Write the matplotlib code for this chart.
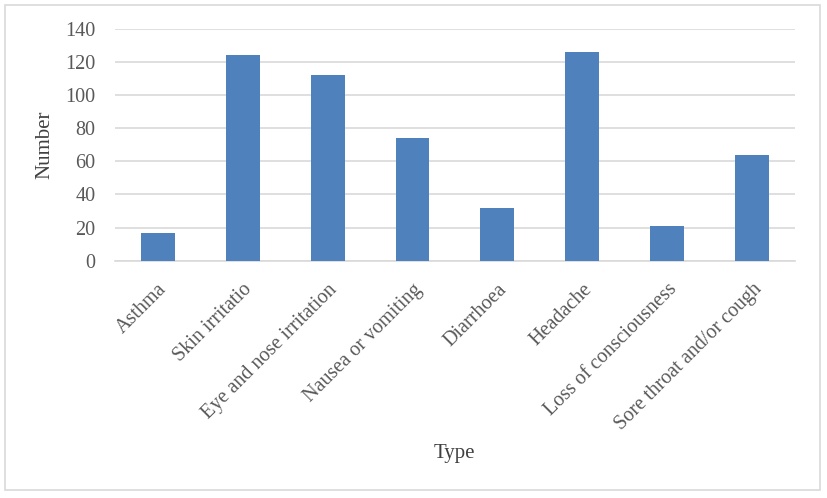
import matplotlib
matplotlib.use("Agg")
import matplotlib.pyplot as plt
from matplotlib.patches import Rectangle

# 데이터
types = ["Asthma", "Skin irritatio", "Eye and nose irritation", "Nausea or vomiting",
         "Diarrhoea", "Headache", "Loss of consciousness", "Sore throat and/or cough"]
counts = [17, 124, 112, 74, 32, 126, 21, 64]
yticks = [0, 20, 40, 60, 80, 100, 120, 140]

plt.rcParams['font.family'] = ['Liberation Serif', 'DejaVu Serif']

fig = plt.figure(figsize=(8.28, 4.98), dpi=100)
ax = fig.add_axes([0.139, 0.4765, 0.821, 0.4655])

ax.bar(range(len(types)), counts, width=0.4, color="#4f81bd", zorder=3)
ax.set_xlim(-0.5, len(types) - 0.5)
ax.set_ylim(0, 140)
ax.set_yticks(yticks)
ax.grid(axis="y", color="#d9d9d9", linewidth=1.2, zorder=0)

ax.set_xticks(range(len(types)))
ax.set_xticklabels(types, rotation=45, ha="right", rotation_mode="anchor",
                   fontsize=14.5, color="#595959")
ax.tick_params(axis="y", labelsize=14.5, labelcolor="#595959", length=0, pad=14)
ax.tick_params(axis="x", length=0, pad=14)

for s in ["top", "right", "left"]:
    ax.spines[s].set_visible(False)
ax.spines["bottom"].set_color("#d9d9d9")
ax.spines["bottom"].set_linewidth(1.2)

ax.set_ylabel("Number", fontsize=15, color="#404040", labelpad=8)
fig.text(0.549, 1 - 453 / 498, "Type", fontsize=15, color="#404040",
         ha="center", va="center")

# 바깥 테두리
fig.patches.append(Rectangle((5 / 828, 8 / 498), 815 / 828, 485 / 498,
                             transform=fig.transFigure, fill=False,
                             edgecolor="#d9d9d9", linewidth=1.2))

fig.savefig("out.png", dpi=100)
